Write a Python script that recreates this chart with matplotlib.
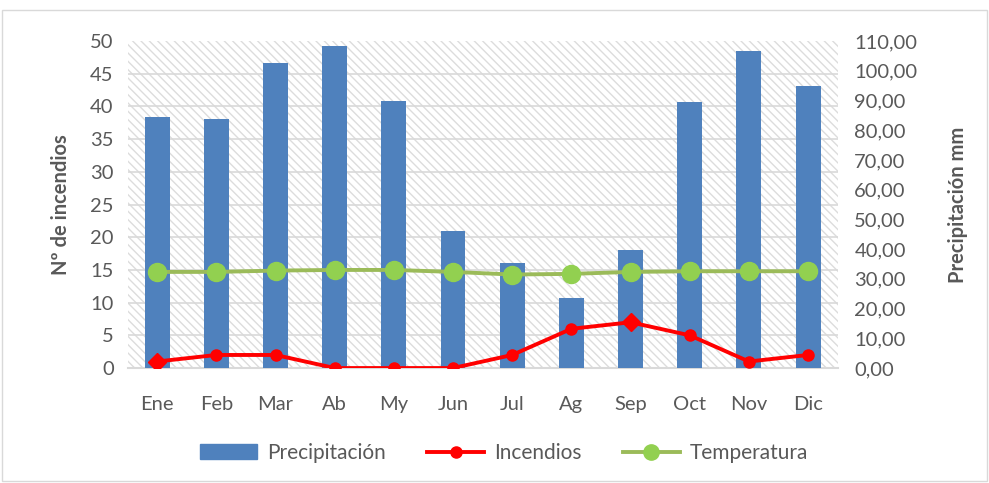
import numpy as np
import matplotlib.pyplot as plt
from matplotlib.patches import Rectangle
from matplotlib.lines import Line2D

meses = ["Ene", "Feb", "Mar", "Ab", "My", "Jun", "Jul", "Ag", "Sep", "Oct", "Nov", "Dic"]
precipitacion = [84.5, 83.8, 102.5, 108.5, 89.8, 46.0, 35.4, 23.5, 39.6, 89.5, 106.6, 94.9]
incendios = [1, 2, 2, 0, 0, 0, 2, 6, 7, 5, 1, 2]
temperatura = [14.7, 14.7, 14.9, 15.0, 15.0, 14.7, 14.3, 14.4, 14.7, 14.8, 14.8, 14.8]
diamantes = [0, 8]  # points drawn with a diamond marker

gris = "#595959"
fs = 14.5
plt.rcParams["font.family"] = ["Lato", "DejaVu Sans"]

fig = plt.figure(figsize=(9.89, 4.83), dpi=100)
fig.patches.append(Rectangle((0.002, 0.004), 0.996, 0.975, transform=fig.transFigure,
                             fill=False, edgecolor="#d9d9d9", lw=1))
ax = fig.add_axes([0.129, 0.238, 0.718, 0.677])
ax2 = ax.twinx()
x = np.arange(len(meses))

# precipitation on the primary axes (drawn underneath), ticks on the right
ax.add_patch(Rectangle((0, 0), 1, 1, transform=ax.transAxes, facecolor="white",
                       edgecolor="#dcdcdc", hatch="\\\\\\\\", lw=0, zorder=0))
ax.bar(x, precipitacion, width=0.42, color="#4f81bd", zorder=3)
ax.set_ylim(0, 110)
ax.set_yticks(np.arange(0, 111, 10))
ax.set_yticklabels([f"{v:.2f}".replace(".", ",") for v in np.arange(0, 111, 10)])
ax.set_yticks(np.arange(0, 51, 5) * 110 / 50, minor=True)
ax.yaxis.grid(True, which="minor", color="#d9d9d9", lw=1.2, zorder=1)
ax.tick_params(axis="y", which="minor", length=0)
ax.yaxis.tick_right()
ax.yaxis.set_label_position("right")
ax.set_ylabel("Precipitación mm", fontsize=fs, fontweight="bold", color=gris, labelpad=22)
ax.set_xlim(-0.5, len(meses) - 0.5)
ax.set_xticks(x)
ax.set_xticklabels(meses)
ax.tick_params(axis="both", length=0, labelsize=fs, labelcolor=gris)
ax.tick_params(axis="x", pad=20)
ax.tick_params(axis="y", pad=12)
for s in ["top", "left", "right"]:
    ax.spines[s].set_visible(False)
ax.spines["bottom"].set_color("#d9d9d9")
ax.spines["bottom"].set_linewidth(1.5)

# fires and temperature on the twin, ticks on the left
ax2.yaxis.tick_left()
ax2.yaxis.set_label_position("left")
ax2.set_ylim(0, 50)
ax2.set_yticks(np.arange(0, 51, 5))
ax2.tick_params(axis="y", length=0, labelsize=fs, labelcolor=gris, pad=10)
ax2.set_ylabel("Nº de incendios", fontsize=fs, fontweight="bold", color=gris, labelpad=14)
for s in ax2.spines.values():
    s.set_visible(False)

ax2.plot(x, temperatura, color="#9bbb59", lw=2.8, marker="o", ms=13,
         mfc="#92d050", mec="#92d050", zorder=3)
circ = [i for i in range(len(meses)) if i not in diamantes]
ax2.plot(x, incendios, color="#ff0000", lw=2.8, marker="o", ms=8,
         markevery=circ, zorder=4)
ax2.plot(x[diamantes], [incendios[i] for i in diamantes], ls="none", marker="D",
         ms=9, color="#ff0000", zorder=5)

handles = [
    Rectangle((0, 0), 1, 1, color="#4f81bd"),
    Line2D([], [], color="#ff0000", lw=2.8, marker="o", ms=8),
    Line2D([], [], color="#9bbb59", lw=2.8, marker="o", ms=11, mfc="#92d050", mec="#92d050"),
]
leg = fig.legend(handles, ["Precipitación", "Incendios", "Temperatura"], loc="center",
                 bbox_to_anchor=(0.51, 0.062), ncol=3, frameon=False, fontsize=15,
                 handlelength=2.7, columnspacing=2.0, handletextpad=0.5)
for t in leg.get_texts():
    t.set_color(gris)

fig.savefig("out.png", dpi=100)
